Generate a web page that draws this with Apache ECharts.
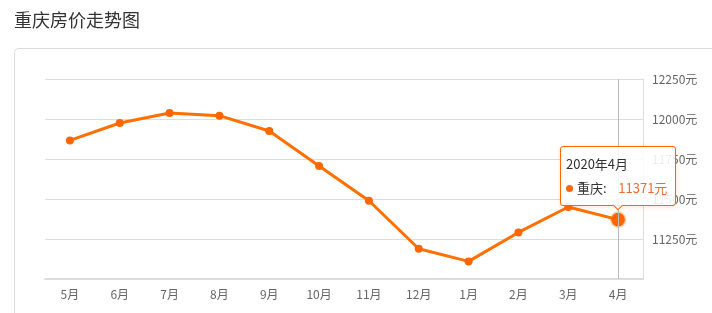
<!DOCTYPE html>
<html><head><meta charset="utf-8">
<script src="https://cdn.jsdelivr.net/npm/echarts@6/dist/echarts.min.js"></script>
<style>html,body{margin:0;padding:0;background:#fff;overflow:hidden}#c{width:712px;height:313px}</style>
</head><body><div id="c"></div>
<script>
const chartTitle = '重庆房价走势图';
const cityName = '重庆';
const months = ['5月','6月','7月','8月','9月','10月','11月','12月','1月','2月','3月','4月'];
const prices = [11866, 11975, 12037, 12021, 11925, 11706, 11489, 11189, 11110, 11291, 11450, 11371];
const yMin = 11000, yMax = 12250, yStep = 250;
const tipLabel = '2020年4月';
const tipIndex = 11;

const FONT = '"Noto Sans CJK SC", "Noto Sans", sans-serif';
const ORANGE = '#ff6600';
const chart = echarts.init(document.getElementById('c'));
const cssFont = FONT.replace(/"/g, "'");
chart.setOption({
  animation: false,
  textStyle: { fontFamily: FONT },
  title: { text: chartTitle, left: 9, top: 6, textStyle: { fontSize: 18, fontWeight: 'normal', color: '#333', fontFamily: FONT } },
  graphic: [{ type: 'rect', z: -10, silent: true, shape: { x: 14.5, y: 48.5, width: 760, height: 320, r: 4 }, style: { fill: 'none', stroke: '#dcdcdc', lineWidth: 1 } }],
  grid: { left: 45, right: 69, top: 79, bottom: 34 },
  tooltip: {
    trigger: 'item', triggerOn: 'none', alwaysShowContent: true, position: 'top', transitionDuration: 0,
    backgroundColor: 'rgba(255,255,255,0.88)', borderColor: ORANGE, borderWidth: 1, padding: [8, 8, 8, 5],
    extraCssText: 'box-shadow:0 1px 5px rgba(255,102,0,0.18);border-radius:3px;',
    formatter: p => `<div style="font-family:${cssFont};font-size:13px;color:#333;line-height:18px">${tipLabel}</div>` +
      `<div style="font-family:${cssFont};font-size:13px;color:#333;line-height:18px;margin-top:6px"><span style="display:inline-block;width:7px;height:7px;border-radius:50%;background:${ORANGE};margin-right:4px;vertical-align:1px"></span>${cityName}:&nbsp;&nbsp;&nbsp;&nbsp;<span style="color:#f26a30">${p.value}元</span></div>`
  },
  xAxis: {
    type: 'category', data: months, boundaryGap: true,
    axisLine: { lineStyle: { color: '#dddddd', width: 2 } },
    axisTick: { alignWithLabel: true, length: 5, lineStyle: { color: '#dddddd' } },
    axisLabel: { color: '#666', fontSize: 12, margin: 9 },
    splitLine: { show: false }
  },
  yAxis: {
    type: 'value', position: 'right', min: yMin, max: yMax, interval: yStep,
    axisLine: { show: true, lineStyle: { color: '#dddddd' } },
    axisTick: { show: false },
    axisLabel: { color: '#666', fontSize: 12, margin: 9, formatter: v => v === yMin ? '' : v + '元' },
    splitLine: { lineStyle: { color: '#dddddd' } }
  },
  series: [{
    type: 'line', name: cityName, data: prices,
    symbol: 'circle', symbolSize: 8,
    lineStyle: { color: ORANGE, width: 3 },
    itemStyle: { color: ORANGE },
    emphasis: { scale: 1.7, itemStyle: { color: ORANGE, borderColor: 'rgba(255,102,0,0.3)', borderWidth: 3 }, lineStyle: { width: 3 } },
    markLine: {
      silent: true, symbol: 'none', label: { show: false },
      lineStyle: { color: '#bbbbbb', width: 1, type: 'solid' },
      emphasis: { disabled: true },
      data: [{ xAxis: months[tipIndex] }]
    }
  }]
});
chart.dispatchAction({ type: 'highlight', seriesIndex: 0, dataIndex: tipIndex });
chart.dispatchAction({ type: 'showTip', seriesIndex: 0, dataIndex: tipIndex });
</script></body></html>
